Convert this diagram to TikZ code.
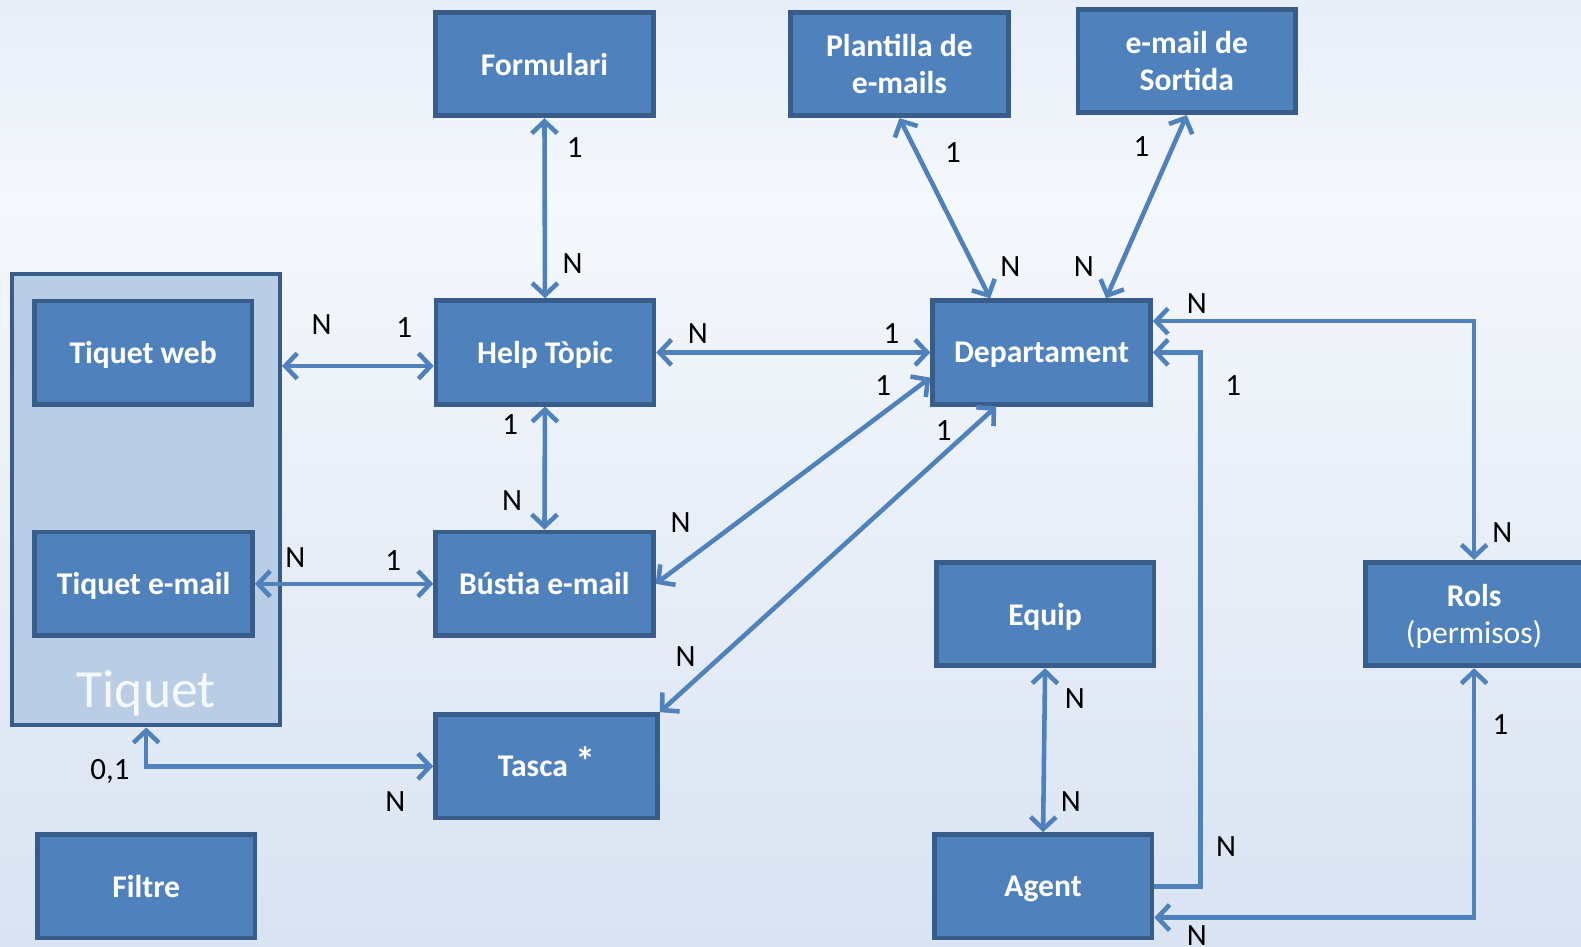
\documentclass[tikz,border=0pt]{standalone}
\usepackage{fontspec}
\setmainfont{Carlito}
\usetikzlibrary{arrows.meta,calc}
\definecolor{boxfill}{HTML}{4F81BD}
\definecolor{boxline}{HTML}{385D8A}
\definecolor{groupfill}{HTML}{B9CDE5}
\definecolor{bgtop}{HTML}{E7EEF8}
\definecolor{bgmid}{HTML}{F5F8FC}
\definecolor{bgbot}{HTML}{D9E3F2}
\tikzset{
  entity/.style={draw=boxline, fill=boxfill, line width=3.5pt, text=white,
    minimum width=162pt, minimum height=77pt, inner sep=2pt, align=center,
    text depth=0pt, font=\fontsize{23.5}{28}\selectfont\bfseries},
  group/.style={draw=boxline, fill=groupfill, line width=3pt,
    minimum width=199pt, minimum height=336pt},
  link/.style={draw=boxfill, line width=3.4pt},
  card/.style={font=\fontsize{23}{28}\selectfont, inner sep=0pt}
}
\begin{document}
\begin{tikzpicture}[x=0.75pt,y=-0.75pt,>={Straight Barb[length=9pt,width=19pt]}]
  \path[use as bounding box, clip] (0,0) rectangle (1568,939);
  \shade[top color=bgtop, bottom color=bgmid] (0,0) rectangle (1568,200);
  \shade[top color=bgmid, bottom color=bgbot] (0,199) rectangle (1568,939);
  % ticket group
  \node[group] (tiq) at (145,495.5) {};
  \node[text=bgmid, font=\fontsize{40}{44}\selectfont] (tiqname) at (145,688) {Tiquet};
  % entities
  \node[entity] (form) at (540,63.5) {Formulari};
  \node[entity] (plant) at (892,63.5) {Plantilla de\\e-mails};
  \node[entity] (sort) at (1177,60.5) {e-mail de\\Sortida};
  \node[entity] (tweb) at (142,350) {Tiquet web};
  \node[entity] (help) at (540.5,349.5) {Help Tòpic};
  \node[entity] (dep) at (1033,349.5) {Departament};
  \node[entity] (tmail) at (142.5,579) {Tiquet e-mail};
  \node[entity] (bust) at (540,579) {Bústia e-mail};
  \node[entity] (equip) at (1036.5,609) {Equip};
  \node[entity] (rols) at (1462,609) {Rols\\{\mdseries(permisos)}};
  \node[entity, minimum width=165pt] (tasca) at (542,760)
    {Tasca \smash{\raisebox{1pt}{\fontsize{30}{30}\selectfont*}}};
  \node[entity] (filtre) at (145,879) {Filtre};
  \node[entity] (agent) at (1034.5,879) {Agent};
  % relations
  \draw[link,<->] (form.south) -- (help.north);
  \draw[link,<->] (plant.south) -- ($(dep.north)+(-51,0)$);
  \draw[link,<->] (sort.south) -- ($(dep.north)+(64,0)$);
  \draw[link,<->] (tiq.east |- 0,363) -- (help.west |- 0,363);
  \draw[link,<->] (help.east) -- (dep.west);
  \draw[link,<->] (help.south) -- (bust.north);
  \draw[link,<->] (tmail.east) -- (bust.west);
  \draw[link,<->] (bust.east) -- ($(dep.west)+(0,25)$);
  \draw[link,<->] (tasca.north east) -- ($(dep.south)+(-45,0)$);
  \draw[link,<->] (tiq.south) |- (tasca.west);
  \draw[link,<->] ($(dep.east)+(0,-31)$) -| (rols.north);
  \draw[link,->] (agent.east) -- ++(46,0) |- (dep.east);
  \draw[link,<->] (equip.south) -- (agent.north);
  \draw[link,<->] (rols.south) |- ($(agent.east)+(0,31)$);
  % cardinalities
  \foreach \x/\y/\t [count=\i] in {570/146/1, 568/261/N, 945/151/1, 1002/264/N,
      1132/145/1, 1075/264/N, 319/322/N, 401/325/1, 692/331/N, 884/331/1,
      506/421/1, 508/496/N, 293/553/N, 390/556/1, 675/518/N, 876/382/1,
      680/651/N, 936/427/1, 109/765/{0,1}, 392/795/N, 1187/301/N, 1490/528/N,
      1223/382/1, 1216/840/N, 1066/693/N, 1062/795/N, 1488/719/1, 1187/928/N}
    \node[card] (c\i) at (\x,\y) {\t};
\end{tikzpicture}
\end{document}
